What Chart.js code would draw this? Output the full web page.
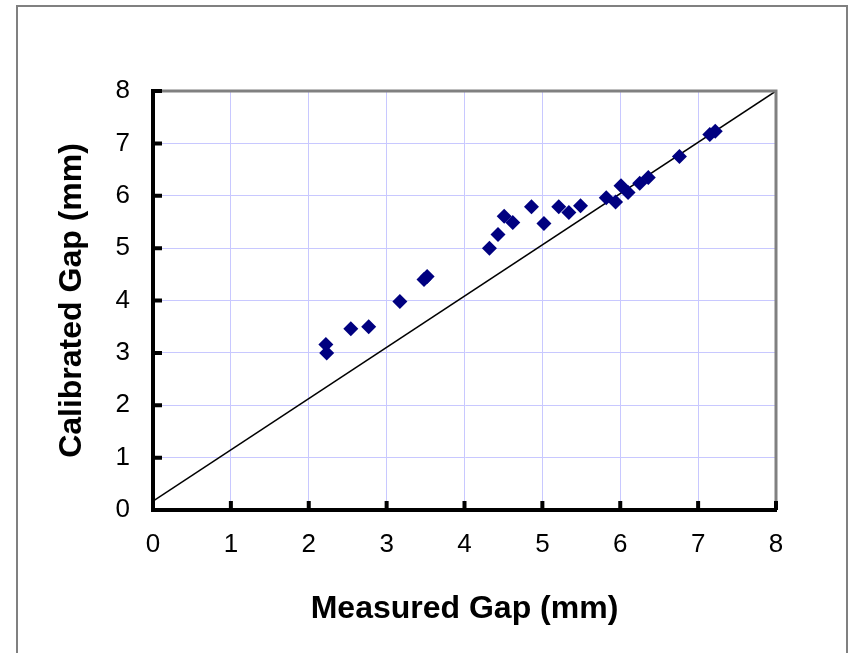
<!DOCTYPE html>
<html>
<head>
<meta charset="utf-8">
<script src="https://cdn.jsdelivr.net/npm/chart.js@4"></script>
<style>
  html, body { margin: 0; padding: 0; background: #fff; }
  #wrap { width: 850px; height: 653px; }
</style>
</head>
<body>
<div id="wrap"><canvas id="gap-chart"></canvas></div>
<script>
// measured vs calibrated gap
const measured = [2.22, 2.23, 2.54, 2.77, 3.17, 3.48, 3.52, 4.32, 4.43, 4.51, 4.62, 4.86, 5.02, 5.21, 5.34, 5.49, 5.82, 5.94, 6.01, 6.10, 6.25, 6.36, 6.76, 7.15, 7.22];
const calibrated = [3.16, 3.00, 3.46, 3.50, 3.98, 4.40, 4.46, 5.00, 5.26, 5.61, 5.49, 5.79, 5.47, 5.79, 5.68, 5.81, 5.96, 5.88, 6.19, 6.06, 6.24, 6.35, 6.75, 7.17, 7.23];
// reference line end points
const lineX = [0, 8];
const lineY = [0.17, 8];
const axisTicks = [0, 1, 2, 3, 4, 5, 6, 7, 8];

const points = measured.map((x, i) => ({ x: x, y: calibrated[i] }));
const linePts = lineX.map((x, i) => ({ x: x, y: lineY[i] }));

// frame, top/right borders and inward tick marks
const framePlugin = {
    id: "frame",
    beforeDraw(chart) {
        const c = chart.ctx;
        c.save();
        c.fillStyle = "#fff";
        c.fillRect(0, 0, chart.width, chart.height);
        c.strokeStyle = "#808080";
        c.lineWidth = 2;
        c.strokeRect(17, 6, 830, 700);
        c.restore();
    },
    afterDatasetsDraw(chart) {
        const c = chart.ctx;
        const a = chart.chartArea;
        const xs = chart.scales.x, ys = chart.scales.y;
        c.save();
        c.strokeStyle = "#808080";
        c.lineWidth = 3;
        c.beginPath();
        c.moveTo(a.left, a.top);
        c.lineTo(a.right, a.top);
        c.lineTo(a.right, a.bottom);
        c.stroke();
        c.strokeStyle = "#000";
        c.lineWidth = 4;
        c.beginPath();
        axisTicks.forEach(v => {
            const px = xs.getPixelForValue(v);
            c.moveTo(px, a.bottom);
            c.lineTo(px, a.bottom - 9);
            const py = ys.getPixelForValue(v);
            c.moveTo(a.left, py);
            c.lineTo(a.left + 9, py);
        });
        c.stroke();
        c.restore();
    }
};

ctx = document.querySelector("#gap-chart");
new Chart(ctx, {
    type: "scatter",
    data: {
        datasets: [
            {
                label: "gap",
                data: points,
                pointStyle: "rectRot",
                pointRadius: 7.5,
                pointHoverRadius: 7.5,
                backgroundColor: "#000080",
                borderColor: "#000080",
                borderWidth: 0,
                order: 0,
            },
            {
                label: "line",
                type: "line",
                data: linePts,
                borderColor: "#000",
                borderWidth: 1.5,
                pointRadius: 0,
                fill: false,
                order: 1,
            },
        ],
    },
    options: {
        responsive: true,
        maintainAspectRatio: false,
        animation: false,
        layout: {
            padding: { left: 53, top: 91, right: 74, bottom: 25 },
        },
        plugins: {
            legend: { display: false },
            tooltip: { enabled: false },
        },
        scales: {
            x: {
                type: "linear",
                min: 0,
                max: 8,
                afterFit: (s) => { s.height = 118; },
                ticks: {
                    stepSize: 1,
                    padding: 19,
                    color: "#000",
                    font: { family: "'Liberation Sans', Arial", size: 26 },
                },
                grid: { color: "#c8c8ff", lineWidth: 1, drawTicks: false },
                border: { color: "#000", width: 4 },
                title: {
                    display: true,
                    text: "Measured Gap (mm)",
                    color: "#000",
                    padding: 0,
                    font: { family: "'Liberation Sans', Arial", size: 32, weight: "bold" },
                },
            },
            y: {
                type: "linear",
                min: 0,
                max: 8,
                afterFit: (s) => { s.width = 100; },
                ticks: {
                    stepSize: 1,
                    padding: 23,
                    color: "#000",
                    font: { family: "'Liberation Sans', Arial", size: 26 },
                },
                grid: { color: "#c8c8ff", lineWidth: 1, drawTicks: false },
                border: { color: "#000", width: 4 },
                title: {
                    display: true,
                    text: "Calibrated Gap (mm)",
                    color: "#000",
                    padding: 0,
                    font: { family: "'Liberation Sans', Arial", size: 32, weight: "bold" },
                },
            },
        },
    },
    plugins: [framePlugin],
});
</script>
</body>
</html>
